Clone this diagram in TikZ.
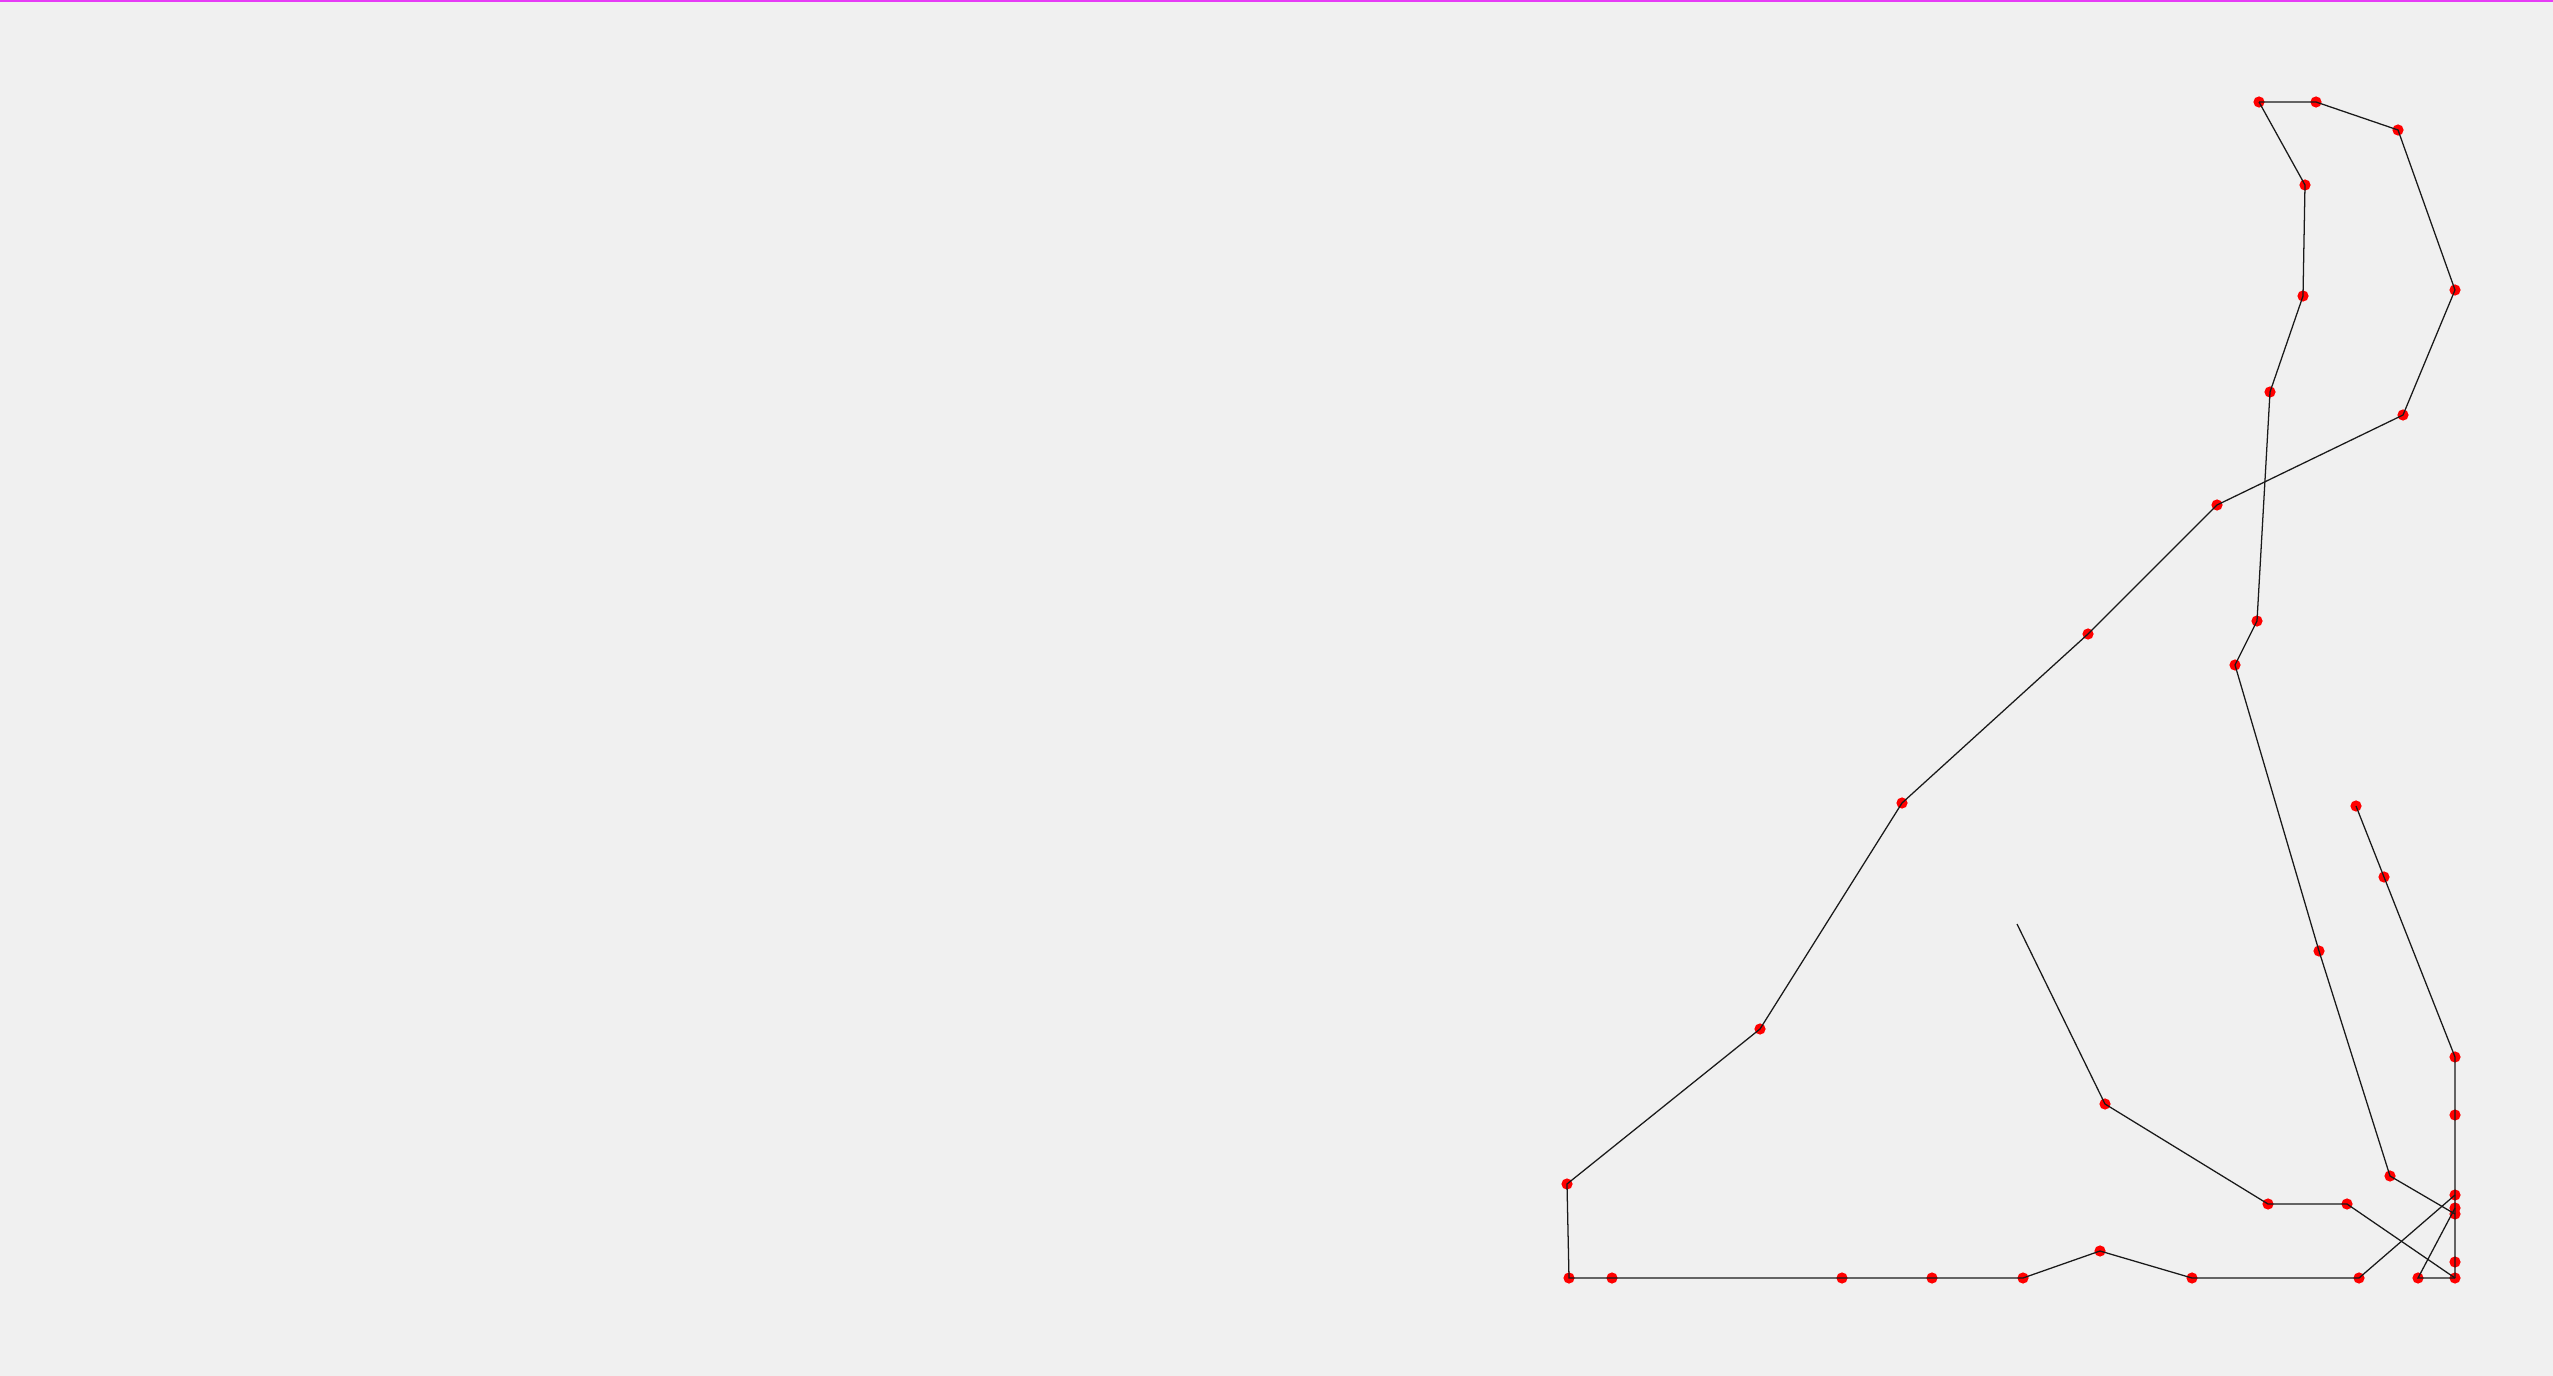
\documentclass[tikz,border=0pt]{standalone}
\usepackage{tikz}
\definecolor{PageGrey}{HTML}{F0F0F0}
\definecolor{EdgeMagenta}{HTML}{E63CF6}
\definecolor{DotRed}{HTML}{FF0000}

\begin{document}
\begin{tikzpicture}[x=0.01cm, y=-0.01cm,
    dot/.style={circle, fill=DotRed, inner sep=0pt, minimum size=0.112cm},
    link/.style={black!90, line width=0.36pt}]
  \useasboundingbox (0,0) rectangle (2553,1376);
  \fill[PageGrey] (0,0) rectangle (2553,1376);
  \fill[EdgeMagenta] (0,0) rectangle (2553,1.6);
  % points of the outline
  \node[dot] (a) at (2259,102) {};
  \node[dot] (b) at (2316,102) {};
  \node[dot] (c) at (2398,130) {};
  \node[dot] (d) at (2305,185) {};
  \node[dot] (e) at (2303,296) {};
  \node[dot] (f) at (2455,290) {};
  \node[dot] (g) at (2270,392) {};
  \node[dot] (h) at (2403,415) {};
  \node[dot] (i) at (2217,505) {};
  \node[dot] (j) at (2257,621) {};
  \node[dot] (k) at (2235,665) {};
  \node[dot] (l) at (2088,634) {};
  \node[dot] (m) at (1902,803) {};
  \node[dot] (n) at (2356,806) {};
  \node[dot] (o) at (2384,877) {};
  \node[dot] (p) at (2319,951) {};
  \node[dot] (q) at (1760,1029) {};
  \coordinate (r) at (2017,924);
  \node[dot] (s) at (2105,1104) {};
  \node[dot] (t) at (2455,1057) {};
  \node[dot] (u) at (2455,1115) {};
  \node[dot] (v) at (2390,1176) {};
  \node[dot] (w) at (2268,1204) {};
  \node[dot] (x) at (2347,1204) {};
  \node[dot] (y) at (2455,1195) {};
  \node[dot] (z1) at (2455,1208) {};
  \node[dot] (z2) at (2455,1214) {};
  \node[dot] (aa) at (2455,1262) {};
  \node[dot] (bb) at (2455,1278) {};
  \node[dot] (cc) at (2418,1278) {};
  \node[dot] (dd) at (2359,1278) {};
  \node[dot] (q2) at (1567,1184) {};
  % base line
  \node[dot] (b1) at (1569,1278) {};
  \node[dot] (b2) at (1612,1278) {};
  \node[dot] (b3) at (1842,1278) {};
  \node[dot] (b4) at (1932,1278) {};
  \node[dot] (b5) at (2023,1278) {};
  \node[dot] (b6) at (2100,1251) {};
  \node[dot] (b7) at (2192,1278) {};
  % outer chain
  \draw[link] (a.center) -- (b.center) -- (c.center) -- (f.center) -- (h.center)
    -- (i.center) -- (l.center) -- (m.center) -- (q.center) -- (q2.center) -- (b1.center)
    -- (b2.center) -- (b3.center) -- (b4.center) -- (b5.center) -- (b6.center)
    -- (b7.center) -- (dd.center) -- (y.center);
  % inner chain
  \draw[link] (a.center) -- (d.center) -- (e.center) -- (g.center) -- (j.center)
    -- (k.center) -- (p.center) -- (v.center) -- (z2.center);
  % right edge
  \draw[link] (n.center) -- (o.center) -- (t.center) -- (u.center) -- (y.center)
    -- (z1.center) -- (z2.center) -- (aa.center) -- (bb.center);
  % open branch
  \draw[link] (r) -- (s.center) -- (w.center) -- (x.center) -- (bb.center);
  \draw[link] (z1.center) -- (cc.center) -- (bb.center);
\end{tikzpicture}
\end{document}
